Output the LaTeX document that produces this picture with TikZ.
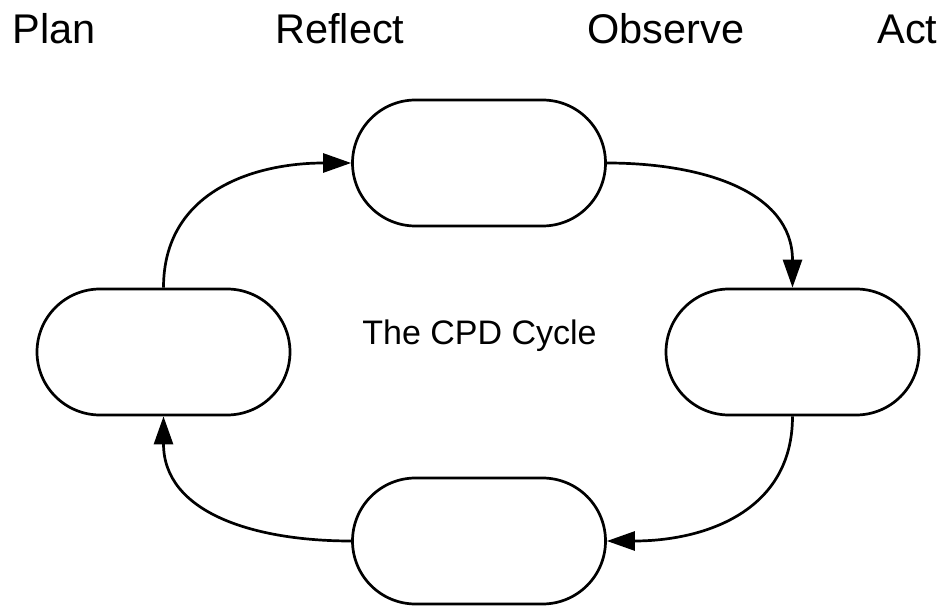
\documentclass[tikz,border=0pt]{standalone}
\usepackage{fontspec}
\setmainfont{Liberation Sans}
\usetikzlibrary{shapes.misc}
\usetikzlibrary{arrows.meta}
\usetikzlibrary{positioning}

\begin{document}
\begin{tikzpicture}
[x=1pt,y=1pt,line width=2.7pt,
 stage/.style={rounded rectangle,draw,minimum width=253pt,minimum height=126pt,inner sep=0pt},
 word/.style={font=\fontsize{41.5}{48}\selectfont,inner sep=0pt,anchor=base west},
 >={Triangle[length=28pt,width=19pt]}]
%[title/.style={font=\Large}]
\useasboundingbox (0,0) rectangle (944,605);
\node[word] (Plan) at (11,561) {Plan};
\node[word] (Reflect) at (274,561) {Reflect};
\node[word] (Observe) at (586,561) {Observe};
\node[word] (Act) at (876,561) {Act};
\node[stage] (TopStage) at (479,442) {};
\node[stage] (LeftStage) at (163.5,253) {};
\node[stage] (RightStage) at (792.5,253) {};
\node[stage] (BottomStage) at (479,64) {};
\node[font=\fontsize{34}{40}\selectfont,inner sep=0pt,anchor=base] (Cycle) at (479.5,260) {The CPD Cycle};
\path[->] (LeftStage.north) edge[out=90,in=180,looseness=1.1] (TopStage.west)
			(TopStage.east) edge[out=0,in=90,looseness=1.1] (RightStage.north)
			(RightStage.south) edge[out=-90,in=0,looseness=1.1] (BottomStage.east)
			(BottomStage.west) edge[out=180,in=-90,looseness=1.1] (LeftStage.south);
\end{tikzpicture}
\end{document}
